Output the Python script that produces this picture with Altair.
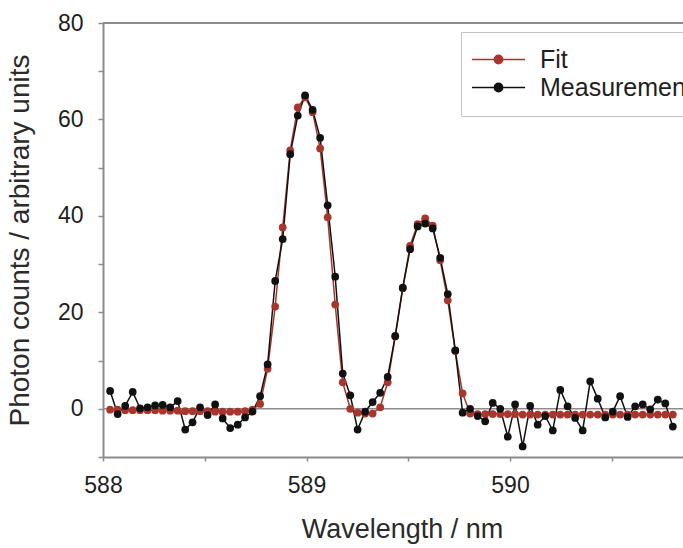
import altair as alt
import pandas as pd

# ---- data ----
wavelength = [
    588.035, 588.072, 588.109, 588.146, 588.182, 588.219, 588.256, 588.293, 588.330, 588.367,
    588.404, 588.440, 588.477, 588.514, 588.551, 588.588, 588.625, 588.662, 588.698, 588.735,
    588.772, 588.809, 588.846, 588.883, 588.920, 588.957, 588.993, 589.030, 589.067, 589.104,
    589.141, 589.178, 589.215, 589.251, 589.288, 589.325, 589.362, 589.399, 589.436, 589.473,
    589.509, 589.546, 589.583, 589.620, 589.657, 589.694, 589.731, 589.767, 589.804, 589.841,
    589.878, 589.915, 589.952, 589.989, 590.025, 590.062, 590.099, 590.136, 590.173, 590.210,
    590.247, 590.283, 590.320, 590.357, 590.394, 590.431, 590.468, 590.505, 590.541, 590.578,
    590.615, 590.652, 590.689, 590.726, 590.763, 590.800,
]

measurement = [
    3.7, -1.1, 0.6, 3.5, 0.1, 0.3, 0.7, 0.8, 0.3, 1.6,
    -4.3, -2.8, 0.3, -1.3, 0.9, -2.0, -4.0, -3.3, -1.8, -0.6,
    2.6, 9.2, 26.5, 35.2, 52.8, 60.8, 65.0, 62.0, 56.2, 42.2,
    27.4, 7.3, 2.8, -4.3, -0.6, 1.4, 3.3, 6.6, 15.1, 25.1,
    33.1, 37.8, 38.4, 37.4, 31.3, 23.8, 12.1, -0.8, 0.0, -1.5,
    -2.6, 1.2, 0.0, -5.8, 0.9, -7.8, 0.6, -3.3, -1.5, -4.5,
    3.9, 0.5, -1.9, -4.5, 5.7, 2.1, -1.8, -0.6, 2.6, -1.7,
    0.5, 0.9, -0.1, 1.9, 1.1, -3.7,
]

fit = [
    -0.2, -0.2, -0.3, -0.3, -0.3, -0.3, -0.3, -0.4, -0.4, -0.4,
    -0.5, -0.5, -0.5, -0.5, -0.6, -0.6, -0.6, -0.6, -0.5, -0.2,
    1.0, 8.3, 21.2, 37.6, 53.6, 62.5, 64.6, 61.5, 54.0, 39.7,
    21.6, 5.5, 0.0, -0.8, -1.0, -1.0, 0.3, 5.5, 15.0, 25.0,
    33.8, 38.3, 39.5, 38.0, 30.8, 22.5, 12.0, 3.2, -1.0, -1.1,
    -1.1, -1.1, -1.1, -1.1, -1.1, -1.2, -1.2, -1.2, -1.2, -1.2,
    -1.2, -1.2, -1.2, -1.2, -1.2, -1.2, -1.2, -1.2, -1.2, -1.2,
    -1.2, -1.2, -1.2, -1.2, -1.2, -1.2,
]

series_names = ["Fit", "Measurement"]
series_colors = ["#a8362d", "#111111"]
x_ticks = [588, 588.5, 589, 589.5, 590, 590.5]
y_ticks = [-10, 0, 10, 20, 30, 40, 50, 60, 70, 80]

rows = []
for name, values in zip(series_names, [fit, measurement]):
    for w, v in zip(wavelength, values):
        rows.append({"wavelength": w, "counts": v, "series": name})
df = pd.DataFrame(rows)

FONT = "Liberation Sans"
AXIS_GRAY = "#8c8c8c"

x_scale = alt.Scale(domain=[588, 590.85], nice=False, zero=False)
y_scale = alt.Scale(domain=[-10, 80], nice=False, zero=False)

# line with a dot in the middle (unit box scaled by sqrt(size)/2)
legend_symbol = "M-2.36,0H2.36M-0.37,0A0.37,0.37,0,1,1,0.37,0A0.37,0.37,0,1,1,-0.37,0Z"

x_axis = alt.Axis(
    values=x_ticks,
    labelExpr="datum.value % 1 == 0 ? format(datum.value, 'd') : ''",
    title="Wavelength / nm",
    titleFont=FONT, titleFontSize=27, titleFontWeight="normal", titleColor="#2a2a2a",
    titleBaseline="alphabetic", titleY=80, titleX=299,
    labelFont=FONT, labelFontSize=23, labelColor="#1e1e1e",
    labelPadding=13, labelFlush=False, labelOverlap=False,
    tickSize=4, tickColor=AXIS_GRAY, tickWidth=1.5,
    domainColor=AXIS_GRAY, domainWidth=2, grid=False,
)
y_axis = alt.Axis(
    values=y_ticks,
    labelExpr="datum.value >= 0 && datum.value % 20 == 0 ? datum.label : ''",
    title="Photon counts / arbitrary units",
    titleFont=FONT, titleFontSize=28, titleFontWeight="normal", titleColor="#2a2a2a",
    titleBaseline="alphabetic", titleX=-75,
    labelFont=FONT, labelFontSize=23, labelColor="#1e1e1e",
    labelPadding=15, labelFlush=False, labelOverlap=False,
    tickSize=5, tickColor=AXIS_GRAY, tickWidth=1.5,
    domainColor=AXIS_GRAY, domainWidth=2, grid=False,
)

zero_line = alt.Chart(pd.DataFrame({"y": [0]})).mark_rule(
    color=AXIS_GRAY, strokeWidth=1.5
).encode(y=alt.Y("y:Q", scale=y_scale, axis=y_axis))

top_frame = alt.Chart(pd.DataFrame({"y": [80]})).mark_rule(
    color=AXIS_GRAY, strokeWidth=2
).encode(y=alt.Y("y:Q", scale=y_scale, axis=y_axis))

data_layer = alt.Chart(df).mark_line(
    strokeWidth=1.5, clip=True,
    point=alt.OverlayMarkDef(filled=True, size=60, opacity=1, clip=True),
).encode(
    x=alt.X("wavelength:Q", scale=x_scale, axis=x_axis),
    y=alt.Y("counts:Q", scale=y_scale, axis=y_axis),
    color=alt.Color(
        "series:N",
        scale=alt.Scale(domain=series_names, range=series_colors),
        legend=alt.Legend(
            title=None, orient="none", legendX=358, legendY=9,
            fillColor="white", strokeColor="#c4c4c4",
            padding=15, rowPadding=2,
            symbolType=legend_symbol, symbolSize=506, symbolStrokeWidth=1.5,
            symbolOffset=10,
            labelFont=FONT, labelFontSize=25, labelColor="#1e1e1e", labelOffset=29,
        ),
    ),
)

chart = alt.layer(zero_line, top_frame, data_layer).properties(
    width=580, height=434,
    padding={"left": 103, "top": 23, "right": 0, "bottom": 91},
    autosize=alt.AutoSizeParams(type="none"),
).configure_view(stroke=None)

chart.save("out.html", embed_options={"renderer": "svg", "actions": False})
